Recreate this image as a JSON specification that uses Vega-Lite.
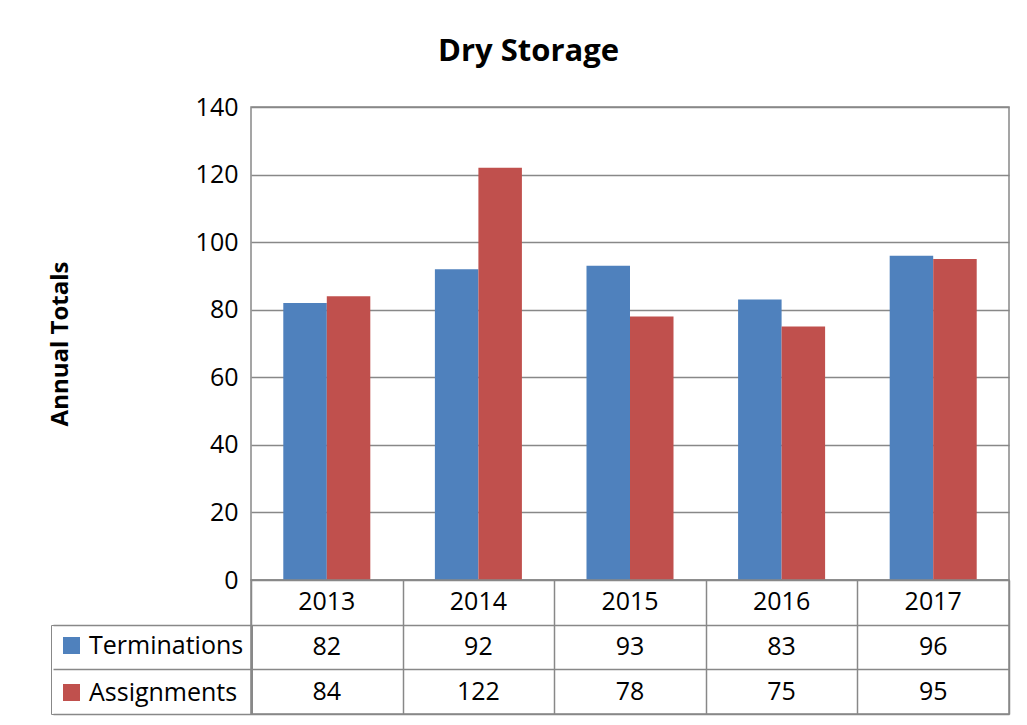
{
  "$schema": "https://vega.github.io/schema/vega-lite/v6.json",
  "title": {"text": "Dry Storage", "font": "Open Sans", "fontSize": 31, "fontWeight": "bold", "anchor": "middle", "frame": "bounds", "color": "black", "offset": 26},
  "padding": {"left": 47, "top": 36, "right": 10, "bottom": 5},
  "data": {"values": [
    {"year": "2013", "series": "Terminations", "value": 82},
    {"year": "2013", "series": "Assignments", "value": 84},
    {"year": "2014", "series": "Terminations", "value": 92},
    {"year": "2014", "series": "Assignments", "value": 122},
    {"year": "2015", "series": "Terminations", "value": 93},
    {"year": "2015", "series": "Assignments", "value": 78},
    {"year": "2016", "series": "Terminations", "value": 83},
    {"year": "2016", "series": "Assignments", "value": 75},
    {"year": "2017", "series": "Terminations", "value": 96},
    {"year": "2017", "series": "Assignments", "value": 95}
  ]},
  "spacing": 0,
  "bounds": "flush",
  "resolve": {"scale": {"x": "independent", "y": "independent", "color": "independent"}, "legend": {"color": "independent"}},
  "vconcat": [
    {
      "width": 758,
      "height": 473,
      "mark": {"type": "bar"},
      "encoding": {
        "x": {"field": "year", "type": "nominal", "scale": {"paddingInner": 0.426, "paddingOuter": 0.213}, "axis": null},
        "xOffset": {"field": "series", "type": "nominal", "sort": ["Terminations", "Assignments"], "scale": {"paddingInner": 0, "paddingOuter": 0}},
        "y": {"field": "value", "type": "quantitative", "scale": {"domain": [0, 140], "nice": false},
              "axis": {"values": [0, 20, 40, 60, 80, 100, 120, 140], "title": "Annual Totals", "titleFont": "Open Sans", "titleFontSize": 24, "titleFontWeight": "bold", "titleColor": "black", "titlePadding": 123,
                       "labelFont": "Open Sans", "labelFontSize": 25, "labelColor": "black", "labelPadding": 13, "ticks": false, "domain": false,
                       "grid": true, "gridColor": "#888888", "gridWidth": 1.5}},
        "color": {"field": "series", "type": "nominal", "scale": {"domain": ["Terminations", "Assignments"], "range": ["#4F81BD", "#C0504D"]},
                  "legend": {"orient": "none", "legendX": -200, "legendY": 518, "title": null, "direction": "vertical", "symbolType": "square", "symbolSize": 289, "symbolStrokeWidth": 0, "symbolOpacity": 1,
                             "labelFont": "Open Sans", "labelFontSize": 25, "labelColor": "black", "labelOffset": 5, "padding": 8, "rowPadding": 21,
                             "strokeColor": "#888888"}}
      }
    },
    {
      "width": 758,
      "height": 134,
      "encoding": {
        "x": {"field": "year", "type": "nominal", "scale": {"paddingInner": 0, "paddingOuter": 0},
              "axis": {"orient": "bottom", "labels": false, "ticks": false, "domain": false, "grid": true, "tickBand": "extent", "gridColor": "#888888", "gridWidth": 1.5, "title": null}},
        "y": {"field": "series", "type": "nominal", "scale": {"domain": ["yr", "Terminations", "Assignments"], "paddingInner": 0, "paddingOuter": 0},
              "axis": {"labels": false, "ticks": true, "tickSize": 198, "tickColor": "#888888", "tickWidth": 1.5, "tickBand": "center", "tickOffset": 22.33, "grid": true, "gridColor": "#888888", "gridWidth": 1.5, "domain": false, "title": null}}
      },
      "layer": [
        {
          "mark": {"type": "text", "font": "Open Sans", "fontSize": 25, "color": "black", "baseline": "middle", "align": "center"},
          "encoding": {"text": {"field": "value", "type": "quantitative"}}
        },
        {
          "transform": [{"filter": "datum.series === 'Terminations'"}],
          "mark": {"type": "text", "font": "Open Sans", "fontSize": 25, "color": "black", "baseline": "middle", "align": "center"},
          "encoding": {"y": {"datum": "yr"}, "text": {"field": "year", "type": "nominal"}}
        }
      ]
    }
  ],
  "config": {"view": {"stroke": "#888888", "strokeWidth": 1.5}, "font": "Open Sans"}
}
